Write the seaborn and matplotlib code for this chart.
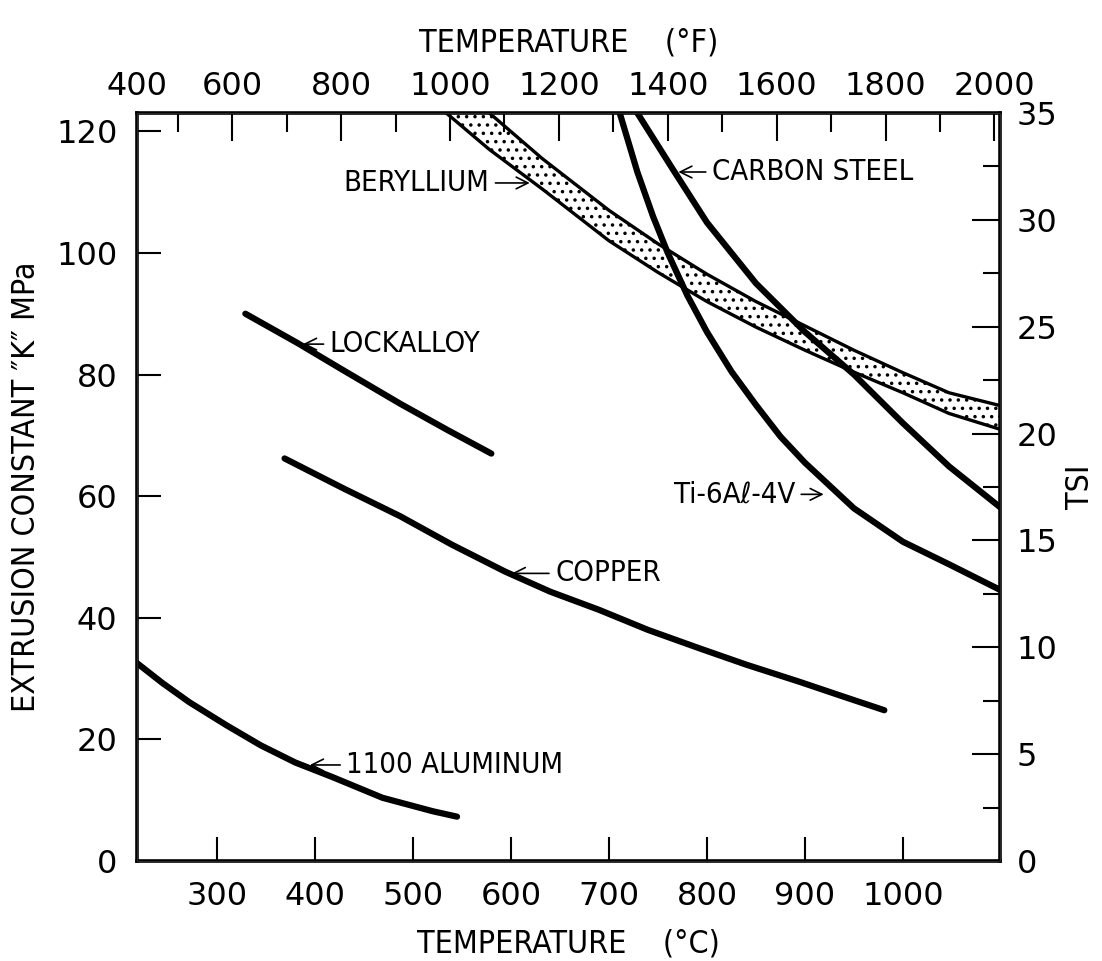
import matplotlib
matplotlib.use("Agg")
import matplotlib.pyplot as plt
from matplotlib.ticker import MultipleLocator
import seaborn as sns

# temperature in deg C, extrusion constant K in MPa
aluminum_t = [218, 245, 272, 310, 345, 380, 418, 469, 520, 545]
aluminum_k = [32.6, 29.2, 26.1, 22.3, 19.0, 16.2, 13.8, 10.4, 8.2, 7.3]

lockalloy_t = [329, 382, 430, 487, 535, 580]
lockalloy_k = [90, 85.2, 80.6, 75.2, 70.9, 67]

copper_t = [369, 430, 487, 540, 594, 640, 690, 740, 792, 840, 894, 940, 981]
copper_k = [66.2, 61.2, 56.7, 52.0, 47.6, 44.3, 41.3, 38.0, 35.0, 32.3, 29.5, 27.0, 24.8]

beryllium_t = [534, 578, 632, 700, 750, 800, 850, 900, 950, 1000, 1047, 1099]
beryllium_hi = [129, 123, 115.5, 107, 101.5, 96.5, 92, 88, 84, 80.3, 77, 74.9]
beryllium_lo = [123, 117, 110.5, 102, 96.8, 92, 87.8, 84, 80.4, 77, 73.6, 71]

steel_t = [729, 765, 800, 850, 900, 950, 1000, 1047, 1099]
steel_k = [123, 113.8, 105, 95, 87, 80, 72, 64.9, 58.2]

titanium_t = [711, 729, 745, 760, 780, 800, 825, 850, 875, 900, 950, 1000, 1047, 1099]
titanium_k = [123, 113.3, 106, 100, 93, 87, 80.5, 75, 69.8, 65.5, 58, 52.5, 48.8, 44.6]

mpa_ticks = [0, 20, 40, 60, 80, 100, 120]
tsi_ticks = [0, 5, 10, 15, 20, 25, 30, 35]
degc_ticks = [300, 400, 500, 600, 700, 800, 900, 1000]
degf_ticks = [600, 800, 1000, 1200, 1400, 1600, 1800, 2000]

sns.set_style("ticks")
plt.rcParams["font.family"] = ["DejaVu Sans"]
plt.rcParams["text.color"] = "black"
plt.rcParams["axes.labelcolor"] = "black"
plt.rcParams["xtick.color"] = "black"
plt.rcParams["ytick.color"] = "black"
plt.rcParams["hatch.linewidth"] = 1.3

fig = plt.figure(figsize=(11.02, 9.61), dpi=100)
ax = fig.add_axes([0.1243, 0.104, 0.7831, 0.7784])

curve_kw = dict(color="black", linewidth=4.5, legend=False)
sns.lineplot(x=aluminum_t, y=aluminum_k, ax=ax, **curve_kw)
sns.lineplot(x=lockalloy_t, y=lockalloy_k, ax=ax, **curve_kw)
sns.lineplot(x=copper_t, y=copper_k, ax=ax, **curve_kw)
sns.lineplot(x=steel_t, y=steel_k, ax=ax, **curve_kw)
sns.lineplot(x=titanium_t, y=titanium_k, ax=ax, **curve_kw)

ax.fill_between(beryllium_t, beryllium_lo, beryllium_hi, facecolor="none",
                edgecolor="black", hatch="..", linewidth=0)
sns.lineplot(x=beryllium_t, y=beryllium_hi, ax=ax, color="black", linewidth=2.4, legend=False)
sns.lineplot(x=beryllium_t, y=beryllium_lo, ax=ax, color="black", linewidth=2.4, legend=False)

ax.set_xlim(218.4, 1099)
ax.set_ylim(0, 123)
ax.set_xticks(degc_ticks)
ax.set_yticks(mpa_ticks)
for side in ax.spines.values():
    side.set_linewidth(2.6)
    side.set_color("black")
ax.tick_params(direction="in", length=17, width=1.5, labelsize=23, pad=14)
label_font = dict(fontsize=23, fontstretch="condensed")
ax.set_xlabel("TEMPERATURE    (°C)", labelpad=12, **label_font)
ax.set_ylabel("EXTRUSION CONSTANT \u2033K\u2033 MPa", labelpad=10, **label_font)

top = ax.secondary_xaxis("top", functions=(lambda c: c * 9 / 5 + 32,
                                            lambda f: (f - 32) * 5 / 9))
top.set_xticks(degf_ticks)
top.xaxis.set_minor_locator(MultipleLocator(100))
top.tick_params(which="major", direction="in", length=20, width=1.5, labelsize=23, pad=8)
top.tick_params(which="minor", direction="in", length=14, width=1.5)
top.set_xlabel("TEMPERATURE    (°F)", labelpad=14, **label_font)
# the 400 F label sits at the corner, just outside the drawn range
ax.annotate("400", xy=(0, 1), xycoords="axes fraction", xytext=(0, 8),
            textcoords="offset points", ha="center", va="bottom", fontsize=23)

right = ax.twinx()
right.set_ylim(0, 35)
right.set_yticks(tsi_ticks)
right.yaxis.set_minor_locator(MultipleLocator(2.5))
right.tick_params(which="major", direction="in", length=20, width=1.5, labelsize=23, pad=12)
right.tick_params(which="minor", direction="in", length=12, width=1.5)
right.set_ylabel("TSI", **label_font)
right.yaxis.set_label_coords(1.075, 0.5)

arrow = dict(arrowstyle="->", color="black", lw=1.2)
text_kw = dict(fontsize=21, va="center", fontstretch="condensed", arrowprops=arrow)
ax.annotate("BERYLLIUM", xy=(622, 111.5), xytext=(578, 111.5), ha="right", **text_kw)
ax.annotate("CARBON STEEL", xy=(768, 113.3), xytext=(805, 113.3), ha="left", **text_kw)
ax.annotate("LOCKALLOY", xy=(385, 85), xytext=(415, 85), ha="left", **text_kw)
ax.annotate("COPPER", xy=(598, 47.3), xytext=(645, 47.3), ha="left", **text_kw)
ax.annotate("Ti-6A\u2113-4V", xy=(922, 60.3), xytext=(890, 60.3), ha="right", **text_kw)
ax.annotate("1100 ALUMINUM", xy=(392, 15.8), xytext=(432, 15.8), ha="left", **text_kw)

fig.savefig("out.png", dpi=100)
